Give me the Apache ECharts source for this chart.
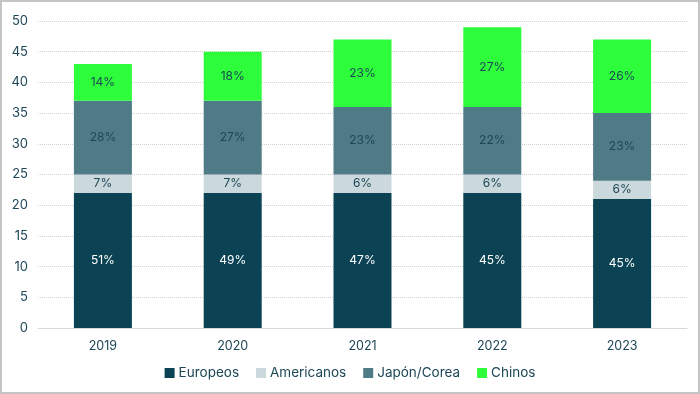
<!DOCTYPE html>
<html><head><meta charset="utf-8">
<script src="https://cdn.jsdelivr.net/npm/echarts@6/dist/echarts.min.js"></script>
<style>
html,body{margin:0;padding:0;background:#fff;}
#frame{position:absolute;left:0;top:0;width:696px;height:390px;border:2px solid #c4c4c4;background:#fff;}
#c{width:696px;height:390px;}
</style></head><body>
<div id="frame"><div id="c"></div></div>
<script>
const categories = ['2019','2020','2021','2022','2023'];
const europeos   = [22, 22, 22, 22, 21];
const americanos = [3, 3, 3, 3, 3];
const japon      = [12, 12, 11, 11, 11];
const chinos     = [6, 8, 11, 13, 12];
const pctEuropeos   = ['51%','49%','47%','45%','45%'];
const pctAmericanos = ['7%','7%','6%','6%','6%'];
const pctJapon      = ['28%','27%','23%','22%','23%'];
const pctChinos     = ['14%','18%','23%','27%','26%'];
const yTicks = [0,5,10,15,20,25,30,35,40,45,50];

const txt = '#1d4657';
const font = 'Inter, "Noto Sans", sans-serif';
function mk(name, data, pct, color, labelColor){
  return {name, type:'bar', stack:'t', data, barWidth:58,
    itemStyle:{color},
    label:{show:true, position:'inside', color:labelColor, fontSize:12, fontFamily:font,
      formatter:p=>pct[p.dataIndex]}};
}
const chart = echarts.init(document.getElementById('c'));
chart.setOption({
  animation:false,
  grid:{left:36, right:11, top:19, bottom:64},
  legend:{bottom:7, left:'center', itemWidth:10, itemHeight:10, itemGap:17, icon:'rect',
    textStyle:{color:txt, fontSize:13.5, fontFamily:font, padding:[0,0,0,-1]}},
  xAxis:{type:'category', data:categories,
    axisLine:{lineStyle:{color:'#d9d9d9'}}, axisTick:{show:false},
    axisLabel:{color:txt, fontSize:12.5, fontFamily:font, margin:12}},
  yAxis:{type:'value', min:yTicks[0], max:yTicks[yTicks.length-1], interval:5,
    axisLine:{show:false}, axisTick:{show:false},
    axisLabel:{color:txt, fontSize:13, fontFamily:font, margin:10},
    splitLine:{lineStyle:{color:'#d0d0d0', type:[1,1]}}},
  series:[
    mk('Europeos', europeos, pctEuropeos, '#0b4355', '#ffffff'),
    mk('Americanos', americanos, pctAmericanos, '#cbd8dc', txt),
    mk('Japón/Corea', japon, pctJapon, '#4e7b86', txt),
    mk('Chinos', chinos, pctChinos, '#2dfd3b', txt)
  ]
});
</script></body></html>
